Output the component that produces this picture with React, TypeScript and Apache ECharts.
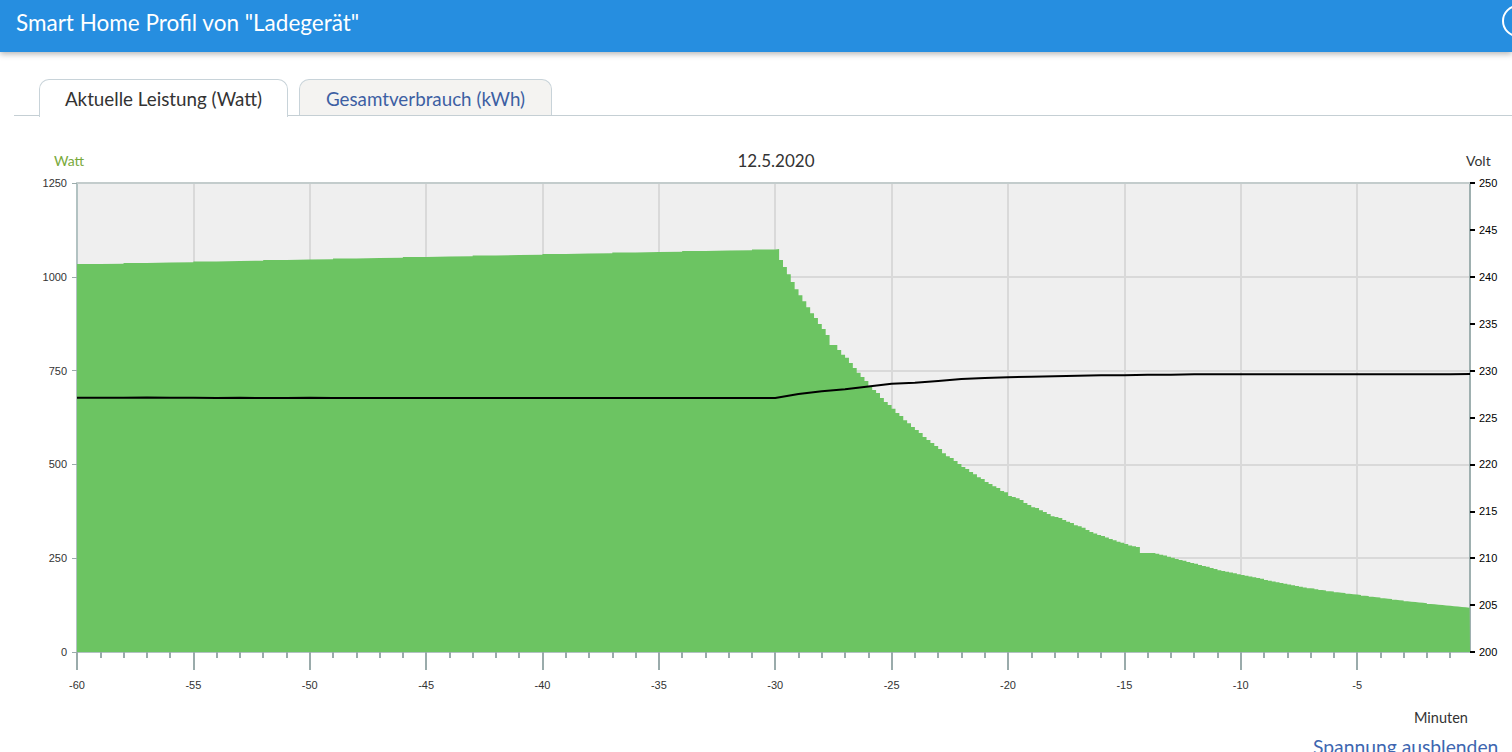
import React, { useEffect, useRef } from "react";
import * as echarts from "echarts";

// ---- data ----
const X_MIN = -60;
const X_MAX = -0.15;
const majorTicks = [-60, -55, -50, -45, -40, -35, -30, -25, -20, -15, -10, -5];
const minorTicks = [
  -59, -58, -57, -56, -54, -53, -52, -51, -49, -48, -47, -46, -44, -43, -42, -41,
  -39, -38, -37, -36, -34, -33, -32, -31, -29, -28, -27, -26, -24, -23, -22, -21,
  -19, -18, -17, -16, -14, -13, -12, -11, -9, -8, -7, -6, -4, -3, -2, -1,
];

// Watt, one value per minute from -60 to -31
const powerLeft = [
  1034, 1035, 1037, 1038, 1039, 1041, 1042, 1043, 1045, 1046, 1047, 1049, 1050, 1051,
  1053, 1054, 1055, 1057, 1058, 1059, 1061, 1062, 1063, 1065, 1066, 1067, 1069, 1070,
  1071, 1073,
];

// Watt, one value per 10 s from -30 to 0
const powerRight = [
  1074, 1045, 1026, 1007, 986, 967, 951, 935, 919, 903,
  890, 874, 861, 845, 818, 818, 805, 792, 784, 770,
  757, 744, 733, 722, 709, 698, 690, 677, 666, 658,
  648, 637, 629, 618, 610, 600, 592, 584, 573, 565,
  557, 549, 541, 530, 522, 517, 509, 501, 493, 488,
  480, 474, 466, 461, 453, 448, 442, 437, 429, 426,
  416, 413, 410, 405, 397, 392, 386, 384, 378, 373,
  368, 362, 360, 357, 352, 347, 344, 338, 335, 331,
  325, 320, 316, 312, 309, 305, 301, 298, 294, 291,
  288, 284, 282, 280, 264, 264, 264, 264, 262, 259,
  257, 254, 251, 248, 245, 243, 240, 237, 235, 232,
  229, 227, 224, 221, 218, 216, 214, 212, 210, 207,
  205, 203, 201, 199, 197, 195, 192, 190, 188, 186,
  184, 182, 180, 178, 176, 174, 172, 170, 169, 167,
  165, 164, 162, 161, 159, 158, 157, 155, 154, 153,
  152, 150, 149, 147, 146, 145, 143, 142, 141, 139,
  138, 137, 135, 134, 133, 132, 131, 130, 128, 127,
  126, 125, 124, 123, 122, 121, 120, 119, 118, 117,
];

// Volt, one value per minute from -60 to 0
const voltage = [
  227.1, 227.1, 227.1, 227.12, 227.1, 227.1, 227.09, 227.1, 227.08, 227.09,
  227.1, 227.09, 227.08, 227.08, 227.09, 227.09, 227.08, 227.07, 227.07, 227.07,
  227.08, 227.07, 227.07, 227.07, 227.07, 227.08, 227.07, 227.07, 227.08, 227.08,
  227.08, 227.5, 227.8, 228.0, 228.3, 228.6, 228.7, 228.9, 229.1, 229.2,
  229.3, 229.35, 229.4, 229.45, 229.5, 229.5, 229.55, 229.55, 229.6, 229.6,
  229.6, 229.6, 229.62, 229.6, 229.62, 229.6, 229.6, 229.62, 229.6, 229.62,
  229.65,
];

const GREEN = "#6cc462";
const AXIS_GRAY = "#b2c2c2";
const TICK_GRAY = "#9aabab";
const FONT = "Lato, 'Noto Sans', sans-serif";
const TICK_FONT = "'Liberation Sans', Arial, sans-serif";

function Chart() {
  const ref = useRef<HTMLDivElement>(null);
  useEffect(() => {
    if (!ref.current) return;
    const chart = echarts.init(ref.current, null, { renderer: "svg" });
    const powerData = powerLeft.map((w, i) => [X_MIN + i, w]);
    powerRight.forEach((w, k) => powerData.push([-30 + k / 6, w]));
    powerData.push([X_MAX, powerRight[powerRight.length - 1]]);
    const voltData = voltage.map((v, i) => [Math.min(X_MIN + i, X_MAX), v]);

    chart.setOption({
      animation: false,
      grid: {
        left: 77,
        top: 183,
        width: 1393,
        height: 469,
        show: true,
        backgroundColor: "#efefef",
        borderWidth: 0,
      },
      xAxis: [
        {
          type: "value",
          min: X_MIN,
          max: X_MAX,
          interval: 5,
          position: "bottom",
          axisLine: { show: true, lineStyle: { color: AXIS_GRAY, width: 2 } },
          axisTick: {
            show: true,
            length: 18,
            customValues: majorTicks,
            lineStyle: { color: TICK_GRAY, width: 2 },
          },
          axisLabel: {
            customValues: majorTicks,
            margin: 27,
            fontSize: 11,
            color: "#333",
            fontFamily: TICK_FONT,
            formatter: (v: number) => String(v),
          },
          splitLine: { show: true, lineStyle: { color: "#d9d9d9", width: 2 } },
        },
        {
          type: "value",
          min: X_MIN,
          max: X_MAX,
          interval: 1,
          position: "bottom",
          axisLine: { show: false },
          axisTick: {
            show: true,
            length: 6,
            customValues: minorTicks,
            lineStyle: { color: TICK_GRAY, width: 2 },
          },
          axisLabel: { show: false },
          splitLine: { show: false },
        },
      ],
      yAxis: [
        {
          type: "value",
          min: 0,
          max: 1250,
          interval: 250,
          position: "left",
          axisLine: { show: true, lineStyle: { color: AXIS_GRAY, width: 2 } },
          axisTick: { show: true, length: 5, lineStyle: { color: TICK_GRAY, width: 1 } },
          axisLabel: {
            fontSize: 11,
            color: "#333",
            margin: 10,
            fontFamily: TICK_FONT,
            formatter: (v: number) => String(v),
          },
          splitLine: { show: true, lineStyle: { color: "#d9d9d9", width: 2 } },
        },
        {
          type: "value",
          min: 200,
          max: 250,
          interval: 5,
          position: "right",
          axisLine: { show: true, lineStyle: { color: "#9fb0b0", width: 2 } },
          axisTick: { show: true, length: 5, lineStyle: { color: "#000", width: 2 } },
          axisLabel: { fontSize: 11, color: "#000", margin: 9, fontFamily: TICK_FONT },
          splitLine: { show: false },
        },
      ],
      series: [
        {
          type: "line",
          xAxisIndex: 0,
          yAxisIndex: 0,
          data: powerData,
          step: "end",
          symbol: "none",
          lineStyle: { width: 0, color: GREEN },
          areaStyle: { color: GREEN, opacity: 1 },
          z: 2,
        },
        {
          type: "line",
          xAxisIndex: 0,
          yAxisIndex: 1,
          data: voltData,
          symbol: "none",
          lineStyle: { width: 2, color: "#000" },
          z: 5,
        },
      ],
      graphic: [
        {
          type: "line",
          shape: { x1: 77, y1: 183, x2: 1470, y2: 183 },
          style: { stroke: "#c3cccc", lineWidth: 2 },
          z: 10,
        },
        {
          type: "text",
          x: 54,
          y: 160,
          style: { text: "Watt", fill: "#78a93a", font: `14px ${FONT}`, textVerticalAlign: "middle" },
        },
        {
          type: "text",
          x: 776,
          y: 160,
          style: {
            text: "12.5.2020",
            fill: "#333",
            font: `17px ${FONT}`,
            textAlign: "center",
            textVerticalAlign: "middle",
          },
        },
        {
          type: "text",
          x: 1466,
          y: 160,
          style: { text: "Volt", fill: "#333", font: `14px ${FONT}`, textVerticalAlign: "middle" },
        },
        {
          type: "text",
          x: 1414,
          y: 717,
          style: { text: "Minuten", fill: "#333", font: `14.5px ${FONT}`, textVerticalAlign: "middle" },
        },
        {
          type: "text",
          x: 1313,
          y: 737,
          style: {
            text: "Spannung ausblenden",
            fill: "#3d66b0",
            font: `19.3px ${FONT}`,
            textVerticalAlign: "top",
          },
        },
      ],
    });
    return () => chart.dispose();
  }, []);
  return (
    <div
      ref={ref}
      style={{ position: "absolute", left: 0, top: 0, width: 1512, height: 752 }}
    />
  );
}

export default function App() {
  useEffect(() => {
    document.body.style.margin = "0";
  }, []);
  return (
    <div
      style={{
        position: "fixed",
        left: 0,
        top: 0,
        width: 1512,
        height: 752,
        overflow: "hidden",
        background: "#fff",
        fontFamily: FONT,
      }}
    >
      <Chart />
      <div
        style={{
          position: "absolute",
          left: 0,
          top: 0,
          width: 1512,
          height: 52,
          background: "#268ee0",
          boxShadow: "0 2px 6px rgba(0,0,0,0.3)",
          zIndex: 3,
        }}
      >
        <div
          style={{
            position: "absolute",
            left: 16,
            top: 0,
            height: 46,
            lineHeight: "46px",
            color: "#fff",
            fontSize: 22.5,
            whiteSpace: "nowrap",
          }}
        >
          Smart Home Profil von "Ladegerät"
        </div>
        <div
          style={{
            position: "absolute",
            left: 1502,
            top: 5,
            width: 28,
            height: 28,
            borderRadius: "50%",
            border: "2px solid #fff",
          }}
        />
      </div>
      <div
        style={{
          position: "absolute",
          left: 14,
          top: 115,
          width: 1498,
          height: 1,
          background: "#c5cfd4",
          zIndex: 2,
        }}
      />
      <div
        style={{
          position: "absolute",
          left: 39,
          top: 79,
          width: 247,
          height: 37,
          background: "#fff",
          border: "1px solid #c8d3d9",
          borderBottom: "none",
          borderRadius: "10px 10px 0 0",
          zIndex: 3,
          color: "#333",
          fontSize: 18.8,
          lineHeight: "38px",
          textAlign: "center",
          whiteSpace: "nowrap",
        }}
      >
        Aktuelle Leistung (Watt)
      </div>
      <div
        style={{
          position: "absolute",
          left: 299,
          top: 79,
          width: 251,
          height: 35,
          background: "#f4f3f1",
          border: "1px solid #c8d3d9",
          borderBottom: "none",
          borderRadius: "10px 10px 0 0",
          zIndex: 3,
          color: "#3d5fa3",
          fontSize: 18.8,
          lineHeight: "38px",
          textAlign: "center",
          whiteSpace: "nowrap",
        }}
      >
        Gesamtverbrauch (kWh)
      </div>
    </div>
  );
}
